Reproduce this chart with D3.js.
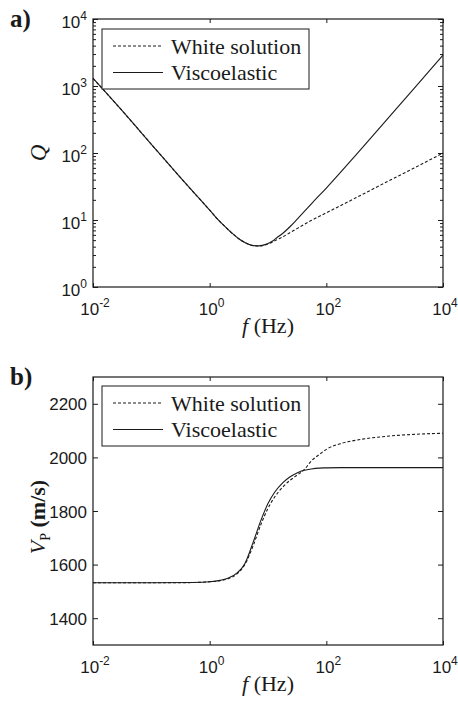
<!DOCTYPE html>
<html>
<head>
<meta charset="utf-8">
<script src="https://cdn.jsdelivr.net/npm/d3@7"></script>
<style>
  body { margin: 0; background: #fff; }
  svg { display: block; }
</style>
</head>
<body>
<div id="chart"></div>
<script>
// data
const seriesNames = ['White solution', 'Viscoelastic'];

// panel a) quality factor Q vs frequency
const freqQ = [0.01, 0.03, 0.1, 0.3, 1, 1.3, 1.8, 2.4, 3.2, 4, 5.6, 7, 8, 10, 12, 14, 18, 24, 32, 42, 56, 100, 320, 1000, 3200, 10000];
const qWhite = [1300, 450, 135, 45, 14, 10.8, 8.1, 6.4, 5.2, 4.62, 4.15, 4.1, 4.15, 4.38, 4.7, 5.05, 5.6, 6.5, 7.5, 8.6, 9.9, 12.8, 21.4, 35.7, 59.7, 100];
const qVisco = [1300, 450, 135, 45, 14, 10.8, 8.1, 6.4, 5.2, 4.62, 4.15, 4.11, 4.18, 4.46, 4.85, 5.39, 6.34, 8.0, 10.4, 13.4, 17.6, 30, 93, 290, 920, 2900];

// panel b) P-wave velocity vs frequency
const freqV = [0.01, 0.1, 0.5, 1, 1.5, 2, 3, 4, 5.6, 7.5, 10, 13, 18, 24, 32, 42, 56, 75, 100, 180, 320, 1000, 3200, 10000];
const vWhite = [1532, 1532, 1533, 1536, 1540, 1546, 1567, 1600, 1672, 1748, 1810, 1852, 1890, 1915, 1935, 1955, 1988, 2010, 2030, 2052, 2064, 2078, 2086, 2090];
const vVisco = [1532, 1532, 1533, 1536, 1541, 1548, 1570, 1603, 1685, 1763, 1828, 1870, 1906, 1928, 1943, 1952, 1957, 1960, 1961, 1962, 1962, 1962, 1962, 1962];

const fTicks = [0.01, 1, 100, 10000];
const qTicks = [1, 10, 100, 1000, 10000];
const vTicks = [1400, 1600, 1800, 2000, 2200];

const W = 458, H = 704;
const ink = '#1a1a1a';
const serif = '"Liberation Serif", "Times New Roman", serif';
const sans = '"Liberation Sans", Arial, sans-serif';

const svg = d3.select('#chart').append('svg')
    .attr('width', W)
    .attr('height', H);

const panels = [
  {
    tag: 'a)', top: 19, bottom: 287,
    y: d3.scaleLog().domain([1, 10000]),
    yTicks: qTicks, yMinor: true,
    freq: freqQ, series: [qWhite, qVisco],
    legendY: 29
  },
  {
    tag: 'b)', top: 377, bottom: 645,
    y: d3.scaleLinear().domain([1300, 2300]),
    yTicks: vTicks, yMinor: false,
    freq: freqV, series: [vWhite, vVisco],
    legendY: 386
  }
];

const left = 93, right = 443;

// superscript power-of-ten label
const powLabel = (sel, v) => {
  const e = Math.round(Math.log10(v));
  sel.append('tspan').text('10');
  sel.append('tspan').attr('dy', -8).attr('font-size', 12).text(e);
};

panels.forEach((p, i) => {
  const x = d3.scaleLog().domain([0.01, 10000]).range([left, right]);
  const y = p.y.range([p.bottom, p.top]);
  const g = svg.append('g');

  // ticks (inward, on all four sides)
  const tickAxis = (axis, tr, vals, size) => {
    g.append('g')
        .attr('transform', tr)
        .call(axis.tickValues(vals).tickSizeInner(size).tickSizeOuter(0).tickFormat(''))
        .call((a) => a.select('.domain').remove())
        .selectAll('line').attr('stroke', ink);
  };
  tickAxis(d3.axisBottom(x), 'translate(0,' + p.bottom + ')', fTicks, -4);
  tickAxis(d3.axisTop(x), 'translate(0,' + p.top + ')', fTicks, -4);
  tickAxis(d3.axisLeft(y), 'translate(' + left + ',0)', p.yTicks, -5);
  tickAxis(d3.axisRight(y), 'translate(' + right + ',0)', p.yTicks, -5);
  if (p.yMinor) {
    const minor = y.ticks().filter((v) => !qTicks.includes(v));
    tickAxis(d3.axisLeft(y), 'translate(' + left + ',0)', minor, -3);
    tickAxis(d3.axisRight(y), 'translate(' + right + ',0)', minor, -3);
  }

  // frame
  g.append('rect')
      .attr('x', left).attr('y', p.top)
      .attr('width', right - left).attr('height', p.bottom - p.top)
      .attr('fill', 'none').attr('stroke', ink).attr('stroke-width', 1.2);

  // x tick labels
  g.selectAll('.xl').data(fTicks).enter().append('text')
      .attr('x', (d) => x(d) + 2)
      .attr('y', p.bottom + 28)
      .attr('text-anchor', 'middle')
      .attr('font-family', sans).attr('font-size', 17).attr('fill', ink)
      .each(function(d) { powLabel(d3.select(this), d); });

  // y tick labels
  g.selectAll('.yl').data(p.yTicks).enter().append('text')
      .attr('x', left - 6)
      .attr('y', (d) => y(d) + (p.yMinor ? 8.5 : 6.5))
      .attr('text-anchor', 'end')
      .attr('font-family', sans).attr('font-size', 17).attr('fill', ink)
      .each(function(d) {
        if (p.yMinor) powLabel(d3.select(this), d);
        else d3.select(this).text(d);
      });

  // curves
  const line = d3.line()
      .x((d) => x(d[0]))
      .y((d) => y(d[1]))
      .curve(d3.curveMonotoneX);
  p.series.forEach((vals, k) => {
    g.append('path')
        .datum(p.freq.map((f, j) => [f, vals[j]]))
        .attr('d', line)
        .attr('fill', 'none')
        .attr('stroke', ink)
        .attr('stroke-width', 1.1)
        .attr('stroke-dasharray', k === 0 ? '3,2' : null);
  });

  // legend
  const lg = g.append('g').attr('transform', 'translate(102,' + p.legendY + ')');
  lg.append('rect')
      .attr('width', 207).attr('height', 60)
      .attr('fill', '#fff').attr('stroke', ink).attr('stroke-width', 1);
  seriesNames.forEach((name, k) => {
    const ly = 17 + k * 26.5;
    lg.append('line')
        .attr('x1', 11).attr('x2', 61)
        .attr('y1', ly).attr('y2', ly)
        .attr('stroke', ink).attr('stroke-width', 1.1)
        .attr('stroke-dasharray', k === 0 ? '3,2' : null);
    lg.append('text')
        .attr('x', 69).attr('y', ly + 7.5)
        .attr('font-family', serif).attr('font-size', 22).attr('fill', ink)
        .text(name);
  });

  // panel tag
  svg.append('text')
      .attr('x', 10).attr('y', p.top + 8)
      .attr('font-family', serif).attr('font-size', 25).attr('font-weight', 'bold')
      .attr('fill', ink)
      .text(p.tag);

  // x label
  const xl = svg.append('text')
      .attr('x', (left + right) / 2)
      .attr('y', p.bottom + 46)
      .attr('text-anchor', 'middle')
      .attr('font-family', serif).attr('font-size', 22).attr('fill', ink);
  xl.append('tspan').attr('font-style', 'italic').text('f');
  xl.append('tspan').text(' (Hz)');

  // y label
  if (i === 0) {
    svg.append('text')
        .attr('transform', 'translate(46,' + (p.top + p.bottom) / 2 + ') rotate(-90)')
        .attr('text-anchor', 'middle')
        .attr('font-family', serif).attr('font-size', 23).attr('font-style', 'italic')
        .attr('fill', ink)
        .text('Q');
  } else {
    const yl = svg.append('text')
        .attr('transform', 'translate(45,' + ((p.top + p.bottom) / 2 + 6) + ') rotate(-90)')
        .attr('text-anchor', 'middle')
        .attr('font-family', serif).attr('font-size', 22).attr('fill', ink);
    yl.append('tspan').attr('font-style', 'italic').text('V');
    yl.append('tspan').attr('font-size', 14).attr('dy', 5).text('P');
    yl.append('tspan').attr('dy', -5).attr('font-weight', 'bold').text(' (m/s)');
  }
});
</script>
</body>
</html>
